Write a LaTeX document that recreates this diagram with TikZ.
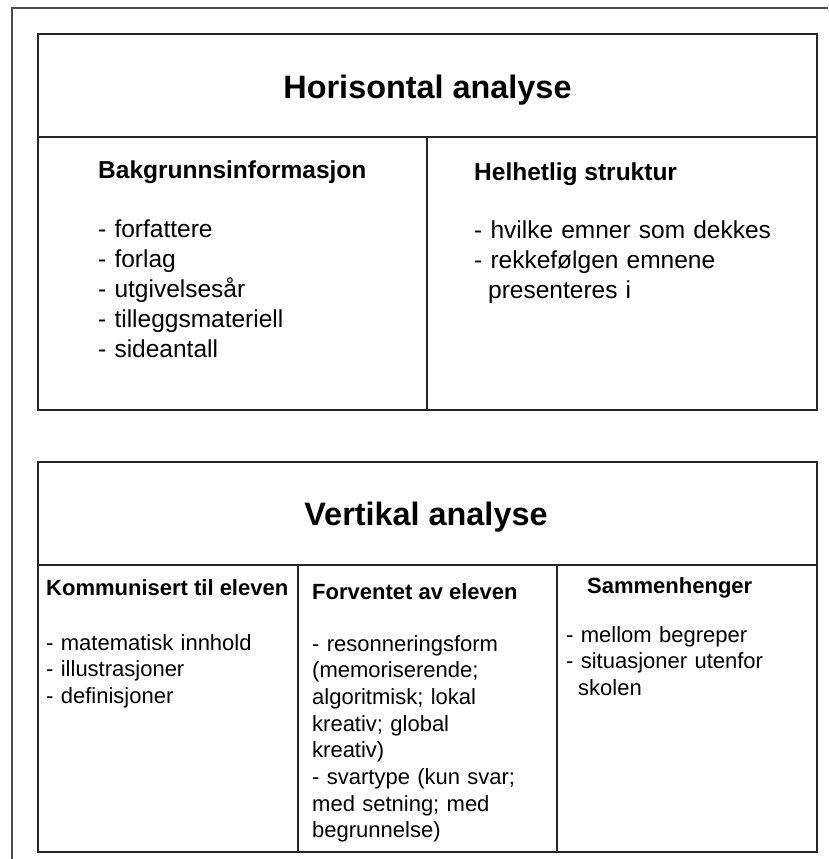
\documentclass[tikz,border=0pt]{standalone}
\usepackage{fontspec}
\setmainfont{Liberation Sans}

\begin{document}
\begin{tikzpicture}[x=1pt,y=-1pt,
  ramme/.style={draw=black!85, line width=1.3pt},
  kant/.style={draw=black!70, line width=1.6pt},
  tittel/.style={anchor=base, inner sep=0pt, font=\fontsize{32.4}{39}\selectfont\bfseries},
  overskrift/.style={anchor=base west, inner sep=0pt, font=\fontsize{24.5}{30}\selectfont\bfseries},
  liste/.style={anchor=base west, inner sep=0pt, align=left, text width=320pt, font=\fontsize{24.5}{30}\selectfont},
  overskriftliten/.style={anchor=base west, inner sep=0pt, font=\fontsize{22}{26.7}\selectfont\bfseries},
  listeliten/.style={anchor=base west, inner sep=0pt, align=left, text width=245pt, font=\fontsize{22}{26.7}\selectfont}]

\useasboundingbox (0,0) rectangle (828,859);
\fill[white] (0,0) rectangle (828,859);

\draw[kant] (12,859) -- (12,8) -- (828,8);

% horisontal analyse
\draw[ramme] (38,34) rectangle (817,410);
\draw[ramme] (38,137) -- (817,137);
\draw[ramme] (427,137) -- (427,410);

\node[tittel] (horisontal) at (427.5,98) {Horisontal analyse};

\node[overskrift] (bakgrunn) at (98,178) {Bakgrunnsinformasjon};
\node[liste] (bakgrunnliste) at (98,237) {- forfattere\\- forlag\\- utgivelsesår\\- tilleggsmateriell\\- sideantall};

\node[overskrift] (helhet) at (474,180) {Helhetlig struktur};
\node[liste] (helhetliste) at (474,238) {- hvilke emner som dekkes\\- rekkefølgen emnene\\\hspace*{14pt}presenteres i};

% vertikal analyse
\draw[ramme] (38,462) rectangle (817,852);
\draw[ramme] (38,565) -- (817,565);
\draw[ramme] (298,565) -- (298,852);
\draw[ramme] (557,565) -- (557,852);

\node[tittel] (vertikal) at (426,525) {Vertikal analyse};

\node[overskriftliten] (kommunisert) at (46,595) {Kommunisert til eleven};
\node[listeliten] (kommunisertliste) at (46,650) {- matematisk innhold\\- illustrasjoner\\- definisjoner};

\node[overskriftliten] (forventet) at (312,599) {Forventet av eleven};
\node[listeliten] (forventetliste) at (312,651) {- resonneringsform\\(memoriserende;\\algoritmisk; lokal\\kreativ; global\\kreativ)\\- svartype (kun svar;\\med setning; med\\begrunnelse)};

\node[overskriftliten] (sammenheng) at (587,593) {Sammenhenger};
\node[listeliten] (sammenhengliste) at (566,642) {- mellom begreper\\- situasjoner utenfor\\\hspace*{12pt}skolen};

\end{tikzpicture}
\end{document}
